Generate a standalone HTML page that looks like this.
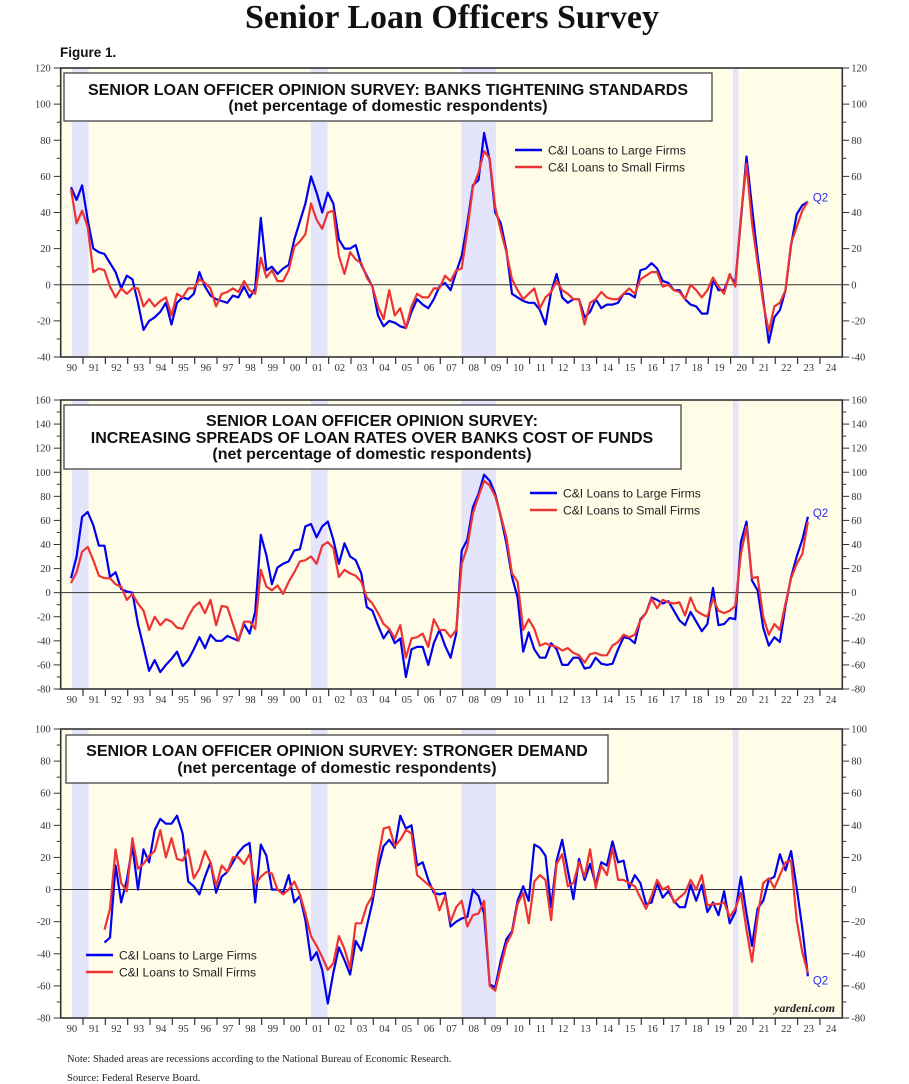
<!DOCTYPE html>
<html><head><meta charset="utf-8"><style>
html,body{margin:0;padding:0;background:#fff;}
svg{display:block;}
.tk{font-family:"Liberation Serif",serif;font-size:10.5px;fill:#333;}
.tt{font-family:"Liberation Sans",sans-serif;font-size:16px;font-weight:bold;fill:#111;}
.lg{font-family:"Liberation Sans",sans-serif;font-size:12.1px;fill:#222;}
</style></head><body>
<svg id="chart" width="909" height="1084" viewBox="0 0 909 1084" xmlns="http://www.w3.org/2000/svg">
<text x="452" y="28" text-anchor="middle" font-family="Liberation Serif,serif" font-size="34" font-weight="bold" fill="#111">Senior Loan Officers Survey</text>
<text x="60" y="57" font-family="Liberation Sans,sans-serif" font-size="13.5" font-weight="bold" fill="#111">Figure 1.</text>
<g id="panels"></g>
<text x="67" y="1062" font-family="Liberation Serif,serif" font-size="10.5" fill="#222">Note: Shaded areas are recessions according to the National Bureau of Economic Research.</text>
<text x="67" y="1081" font-family="Liberation Serif,serif" font-size="10.5" fill="#222">Source: Federal Reserve Board.</text>
</svg>
<script>
const yearLabels=["90","91","92","93","94","95","96","97","98","99","00","01","02","03","04","05","06","07","08","09","10","11","12","13","14","15","16","17","18","19","20","21","22","23","24"];
const recessions=[[1990.5,1991.25],[2001.2,2001.95],[2007.95,2009.5],[2020.1,2020.35]];
const startTime=1990.46;
const p1Large=[54,47,55,36,20,18,17,12,7,-2,5,3,-10,-25,-20,-18,-15,-10,-22,-10,-7,-8,-5,7,-1,-6,-8,-9,-10,-6,-7,-1,-7,-2,37,8,10,6,9,11,25,35,45,60,51,40,51,45,25,20,20,22,11,5,-1,-17,-23,-20,-21,-23,-24,-15,-8,-11,-13,-8,-1,1,-3,7,16,34,55,58,84,69,40,34,19,-5,-7,-9,-10,-10,-14,-22,-4,6,-7,-10,-8,-8,-18,-15,-8,-13,-11,-11,-10,-5,-5,-7,8,9,12,9,2,1,-3,-3,-8,-11,-12,-16,-16,3,-3,-3,5,1,36,71,43,16,-8,-32,-18,-14,-3,22,39,44,46];
const p1Small=[53,34,41,32,7,9,8,-1,-7,-2,-5,-2,-2,-12,-8,-12,-9,-7,-17,-5,-7,-2,-2,3,1,-2,-12,-5,-4,-2,-4,2,-3,-5,15,4,8,2,2,8,21,24,28,45,36,31,40,41,16,6,18,14,12,4,-1,-12,-19,-3,-17,-13,-24,-12,-5,-7,-7,-2,-2,5,2,8,9,30,54,62,74,70,43,30,18,3,-3,-8,-5,-2,-13,-7,-4,2,-3,-5,-8,-8,-22,-10,-8,-4,-7,-8,-8,-5,-2,-5,3,5,7,7,-1,0,-3,-4,-8,0,-3,-7,-3,4,-1,-5,6,-1,38,67,34,12,-10,-26,-12,-10,-3,23,32,41,46];
const p2Large=[12,30,63,67,56,39,39,13,17,3,1,0,-26,-45,-65,-56,-66,-60,-55,-49,-61,-56,-47,-37,-46,-35,-40,-40,-36,-38,-40,-26,-34,-16,48,31,7,21,24,26,35,36,55,57,46,55,59,44,24,41,30,27,16,-12,-15,-27,-38,-31,-42,-38,-70,-47,-45,-45,-60,-42,-31,-44,-54,-34,35,44,71,82,98,93,82,63,41,13,-4,-49,-33,-47,-54,-54,-42,-47,-60,-60,-54,-54,-63,-62,-54,-59,-60,-59,-47,-37,-38,-42,-22,-17,-4,-6,-9,-7,-15,-23,-27,-16,-24,-32,-26,4,-27,-26,-21,-22,42,59,10,2,-29,-44,-37,-41,-11,13,30,44,63];
const p2Small=[8,17,34,38,27,14,12,12,7,5,-6,-1,-9,-15,-31,-20,-27,-22,-24,-29,-30,-20,-12,-8,-17,-6,-27,-11,-12,-26,-40,-24,-24,-30,19,5,2,6,-1,9,17,26,27,30,24,39,42,37,13,19,16,14,9,-4,-9,-17,-26,-30,-38,-27,-54,-38,-37,-34,-45,-22,-31,-31,-37,-31,24,38,66,80,93,89,80,64,46,16,9,-31,-22,-30,-44,-42,-44,-45,-48,-46,-50,-52,-58,-51,-50,-52,-52,-44,-41,-35,-37,-35,-23,-17,-5,-13,-6,-8,-9,-8,-19,-4,-15,-18,-20,-5,-15,-17,-15,-11,32,55,12,13,-20,-35,-26,-31,-9,12,24,32,59];
const p3Offset=6;
const p3Large=[-33,-30,15,-8,6,27,0,25,17,37,44,41,41,46,35,5,2,-3,8,17,-2,8,11,17,23,27,29,-8,28,21,0,0,-2,9,-8,-4,-19,-44,-39,-50,-71,-52,-36,-44,-53,-32,-38,-23,-8,13,27,31,26,46,38,40,15,17,6,-2,-3,-2,-23,-20,-18,-17,0,-4,-15,-59,-61,-44,-31,-26,-7,2,-7,28,26,21,-11,18,31,12,-6,19,6,16,3,17,15,30,17,18,1,9,4,-9,-8,4,-5,-1,-7,-11,-11,3,-7,3,-14,-8,-16,-1,-21,-14,8,-15,-35,-12,-7,6,8,22,12,24,1,-24,-54];
const p3Small=[-25,-12,25,4,-1,32,13,16,21,24,37,20,32,19,18,25,7,13,24,17,2,15,11,20,20,16,22,3,8,11,10,0,-3,0,5,-3,-15,-29,-35,-42,-50,-46,-29,-37,-49,-21,-21,-10,-4,19,38,39,27,31,37,35,9,6,3,0,-13,-4,-20,-11,-7,-23,-16,-15,-7,-60,-63,-48,-34,-27,-9,-2,-21,5,9,6,-19,16,22,2,4,17,8,25,1,15,9,26,6,6,4,2,-5,-12,-4,6,0,2,-8,-5,-2,6,0,9,-10,-9,-9,-8,-17,-12,-2,-25,-45,-17,4,7,1,9,17,18,-19,-39,-52];
const p1Ticks=[-40,-20,0,20,40,60,80,100,120];
const p2Ticks=[-80,-60,-40,-20,0,20,40,60,80,100,140,120,160];
const p3Ticks=[-80,-60,-40,-20,0,20,40,60,80,100];

const NS="http://www.w3.org/2000/svg";
const root=document.getElementById('panels');
const X0=60.7,XW=22.33,PL=60.7,PR=842.3;
function xOf(t){return X0+(t-1990)*XW;}
function mk(tag,attrs,parent){const e=document.createElementNS(NS,tag);for(const k in attrs)e.setAttribute(k,attrs[k]);(parent||root).appendChild(e);return e;}

function panel(cfg){
  const g=mk('g',{});
  
  
  const yOf=v=>cfg.bottom-(v-cfg.min)/(cfg.max-cfg.min)*(cfg.bottom-cfg.top);
  const bg=mk('rect',{x:PL,y:cfg.top,width:PR-PL,height:cfg.bottom-cfg.top,fill:'#fffde8'},g);
  
  
  recessions.forEach(r=>{
    const s=mk('rect',{x:xOf(r[0]),y:cfg.top,width:xOf(r[1])-xOf(r[0]),height:cfg.bottom-cfg.top,fill:'#e4e4fa'},g);
    
    
  });
  const z=mk('line',{x1:PL,x2:PR,y1:yOf(0),y2:yOf(0),stroke:'#333','stroke-width':1},g);
  
  
  for(let v=cfg.min;v<=cfg.max;v+=10){
    const major=(v%20===0);
    mk('line',{x1:PL-(major?7:4),x2:PL,y1:yOf(v),y2:yOf(v),stroke:'#333','stroke-width':1},g);
    mk('line',{x1:PR,x2:PR+(major?7:4),y1:yOf(v),y2:yOf(v),stroke:'#333','stroke-width':1},g);
  }
  cfg.ticks.forEach(v=>{
    const a=mk('text',{x:PL-10,y:yOf(v)+3.5,'text-anchor':'end',class:'tk'},g);a.textContent=v;
    
    
    const b=mk('text',{x:PR+9,y:yOf(v)+3.5,class:'tk'},g);b.textContent=v;
    
    
  });
  yearLabels.forEach((lab,i)=>{
    const t=1990+i;
    if(i>0) mk('line',{x1:xOf(t),x2:xOf(t),y1:cfg.bottom,y2:cfg.bottom+7,stroke:'#333','stroke-width':1.2},g);
    const tx=mk('text',{x:xOf(t+0.5),y:cfg.bottom+14,'text-anchor':'middle',class:'tk'},g);tx.textContent=lab;
    
    
  });
  [[cfg.large,'#0000ee','series-large-firms'],[cfg.small,'#ee3333','series-small-firms']].forEach(s=>{
    let d='';
    s[0].forEach((v,i)=>{const t=startTime+0.25*(i+cfg.offset);d+=(i?'L':'M')+xOf(t).toFixed(1)+','+yOf(v).toFixed(1);});
    const p=mk('path',{d:d,fill:'none',stroke:s[1],'stroke-width':2.2,'stroke-linejoin':'round'},g);
    
    
  });
  const fr=mk('rect',{x:PL,y:cfg.top,width:PR-PL,height:cfg.bottom-cfg.top,fill:'none',stroke:'#333','stroke-width':1.6},g);
  
  
  const bx=mk('rect',{x:cfg.box[0],y:cfg.box[1],width:cfg.box[2]-cfg.box[0],height:cfg.box[3]-cfg.box[1],fill:'#fff',stroke:'#444','stroke-width':1.3},g);
  
  
  cfg.titles.forEach((tl,i)=>{
    const t=mk('text',{x:cfg.titleX,y:cfg.titleY[i],'text-anchor':'middle',class:'tt'},g);t.textContent=tl;
    
    
  });
  const L=cfg.legend;
  [['C&I Loans to Large Firms','#0000ee'],['C&I Loans to Small Firms','#ee3333']].forEach((e,i)=>{
    const y=L[1]+i*17;
    mk('line',{x1:L[0],x2:L[0]+27,y1:y,y2:y,stroke:e[1],'stroke-width':2.5},g);
    const t=mk('text',{x:L[0]+33,y:y+4.5,class:'lg'},g);t.textContent=e[0];
    
    
  });
  const last=cfg.large[cfg.large.length-1];
  const q=mk('text',{x:xOf(startTime+0.25*132)+5,y:yOf(last)+cfg.q2dy,fill:'#2a2aee','font-family':'Liberation Sans,sans-serif','font-size':11.5},g);
  q.textContent='Q2';
  
  
}
panel({name:'panel-tightening-standards',top:68,bottom:357,min:-40,max:120,ticks:p1Ticks,large:p1Large,small:p1Small,offset:0,
  box:[64,73,712,121],titleX:388,titleY:[95,111],titles:['SENIOR LOAN OFFICER OPINION SURVEY: BANKS TIGHTENING STANDARDS','(net percentage of domestic respondents)'],legend:[515,150],q2dy:0});
panel({name:'panel-increasing-spreads',top:400,bottom:689,min:-80,max:160,ticks:p2Ticks,large:p2Large,small:p2Small,offset:0,
  box:[64,405,681,469],titleX:372,titleY:[426,443,459],titles:['SENIOR LOAN OFFICER OPINION SURVEY:','INCREASING SPREADS OF LOAN RATES OVER BANKS COST OF FUNDS','(net percentage of domestic respondents)'],legend:[530,493],q2dy:0});
panel({name:'panel-stronger-demand',top:729,bottom:1018,min:-80,max:100,ticks:p3Ticks,large:p3Large,small:p3Small,offset:p3Offset,
  box:[66,735,608,783],titleX:337,titleY:[756,773],titles:['SENIOR LOAN OFFICER OPINION SURVEY: STRONGER DEMAND','(net percentage of domestic respondents)'],legend:[86,955],q2dy:8});
const yd=mk('text',{x:835,y:1012,'text-anchor':'end','font-family':'Liberation Serif,serif','font-size':12,'font-style':'italic','font-weight':'bold',fill:'#222'});
yd.textContent='yardeni.com';


</script>
</body></html>
